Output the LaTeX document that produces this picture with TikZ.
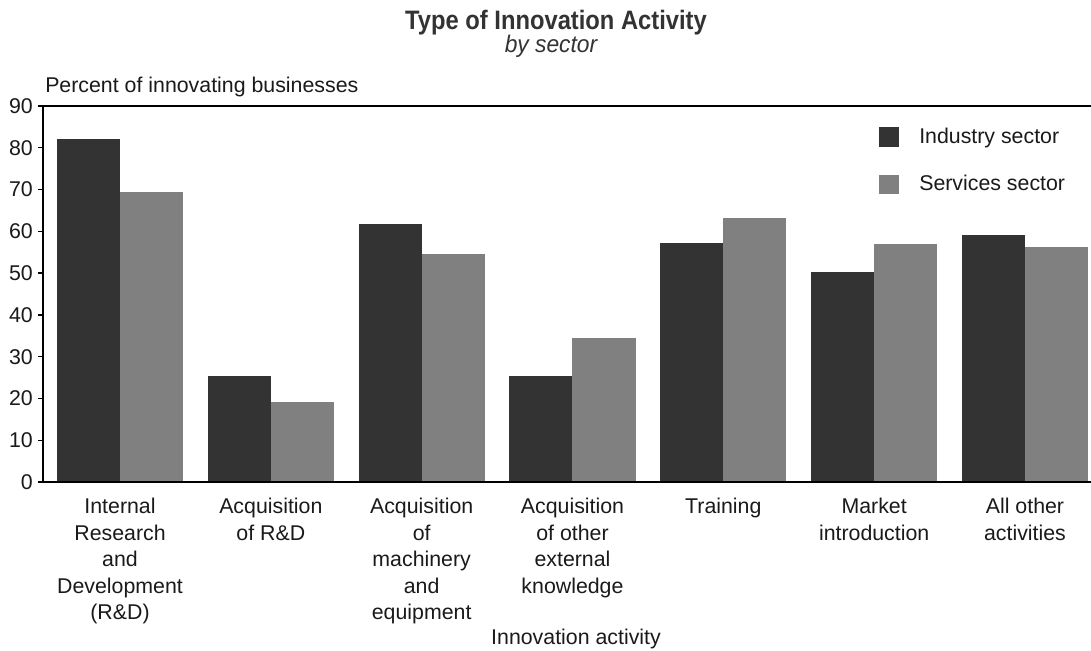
\documentclass[tikz,border=0pt]{standalone}
\usepackage{fontspec}
\setmainfont{Liberation Sans}
\definecolor{ind}{HTML}{333333}
\definecolor{srv}{HTML}{808080}
\definecolor{txt}{HTML}{1A1A1A}
\begin{document}
\begin{tikzpicture}[x=0.75pt,y=-0.75pt,
  lbl/.style={font=\fontsize{16}{19.9}\selectfont, text=txt, inner sep=0, align=center},
  axisline/.style={line width=1.4pt, draw=black},
  indbar/.style={fill=ind},
  srvbar/.style={fill=srv}]
\useasboundingbox[fill=white] (0,0) rectangle (1091,650);
% title
\node[lbl, font=\fontsize{20}{22}\selectfont\bfseries, text=ind, xscale=0.89] (title) at (556,23) {Type of Innovation Activity};
\node[lbl, font=\fontsize{18}{20}\selectfont\itshape, text=ind, xscale=0.95] (sub) at (551,46) {by sector};
% y axis title
\node[lbl, anchor=base west] (ytitle) at (45,92) {Percent of innovating businesses};
% bars
\foreach \a/\b [count=\i from 0] in {82.1/69.4, 25.4/19.1, 61.8/54.6, 25.4/34.5, 57.2/63.2, 50.3/57.0, 59.1/56.2}{
  \pgfmathsetmacro{\xs}{57+150.83*\i}
  \fill[indbar] (\xs,482) rectangle ({\xs+63},{482-\a*4.178});
  \fill[srvbar] ({\xs+63},482) rectangle ({\xs+126},{482-\b*4.178});
}
% axes
\coordinate (o) at (43,482);
\coordinate (tl) at (43,106);
\coordinate (br) at (1091,482);
\coordinate (tr) at (1091,106);
\draw[axisline] (tl) -- (o) -- (br);
\draw[line width=1.1pt] (tl) -- (tr);
\foreach \v in {0,10,...,90}{
  \draw[line width=1pt] (38,{482-\v*4.178}) -- (43,{482-\v*4.178});
  \node[lbl, anchor=east] (t\v) at (33,{482-\v*4.178}) {\v};
}
% category labels
\foreach \t [count=\i from 0] in {{Internal\\Research\\and\\Development\\(R\&D)},{Acquisition\\of R\&D},{Acquisition\\of\\machinery\\and\\equipment},{Acquisition\\of other\\external\\knowledge},{Training},{Market\\introduction},{All other\\activities}}{
  \pgfmathsetmacro{\xc}{120+150.83*\i}
  \node[lbl, anchor=north] (c\i) at (\xc,498) {\t};
}
\node[lbl, anchor=base] (xtitle) at (576,644) {Innovation activity};
% legend
\fill[indbar] (879,127) rectangle (899,147);
\fill[srvbar] (879,175) rectangle (899,194);
\node[lbl, anchor=base west] (l1) at (919,143) {Industry sector};
\node[lbl, anchor=base west] (l2) at (919,190) {Services sector};
\end{tikzpicture}
\end{document}
